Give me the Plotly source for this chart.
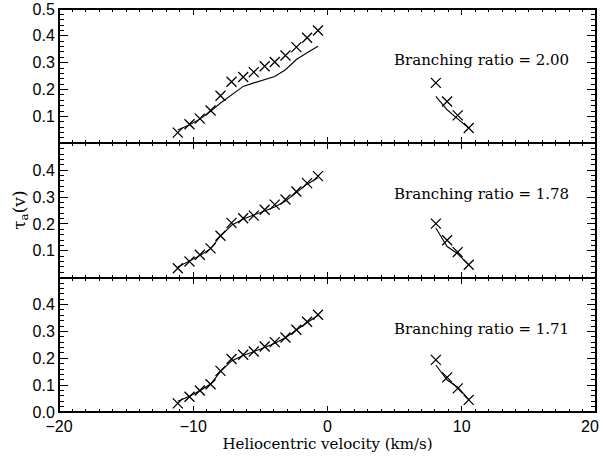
import plotly.graph_objects as go
from plotly.subplots import make_subplots

# Heliocentric velocities (km/s) of the two absorption groups
vel_blue = [-11.15, -10.28, -9.51, -8.71, -7.97, -7.15, -6.28, -5.49,
            -4.68, -3.93, -3.13, -2.32, -1.52, -0.71]
vel_red = [8.07, 8.91, 9.70, 10.52]

# Observed optical depths (crosses) per branching ratio
obs_blue_200 = [0.040, 0.071, 0.092, 0.122, 0.177, 0.229, 0.247, 0.265,
                0.287, 0.303, 0.327, 0.358, 0.393, 0.420]
obs_red_200 = [0.225, 0.156, 0.104, 0.057]
obs_blue_178 = [0.035, 0.060, 0.085, 0.109, 0.156, 0.204, 0.221, 0.231,
                0.253, 0.272, 0.291, 0.321, 0.352, 0.378]
obs_red_178 = [0.201, 0.139, 0.095, 0.048]
obs_blue_171 = [0.032, 0.057, 0.080, 0.103, 0.153, 0.197, 0.213, 0.225,
                0.244, 0.260, 0.277, 0.306, 0.336, 0.362]
obs_red_171 = [0.194, 0.129, 0.088, 0.045]

# Model optical depths (solid lines)
mod_blue_200 = [0.050, 0.069, 0.090, 0.119, 0.150, 0.181, 0.212, 0.225,
                0.237, 0.249, 0.274, 0.312, 0.337, 0.361]
mod_red_200 = [0.175, 0.125, 0.091, 0.057]
mod_blue_178 = [0.040, 0.062, 0.082, 0.108, 0.155, 0.195, 0.218, 0.233,
                0.248, 0.263, 0.285, 0.318, 0.348, 0.372]
mod_red_178 = [0.185, 0.116, 0.089, 0.048]
mod_blue_171 = [0.040, 0.059, 0.079, 0.104, 0.150, 0.190, 0.210, 0.224,
                0.240, 0.256, 0.276, 0.305, 0.334, 0.360]
mod_red_171 = [0.175, 0.119, 0.092, 0.047]

ratio_labels = ["Branching ratio = 2.00", "Branching ratio = 1.78",
                "Branching ratio = 1.71"]
y_ticks = [[0.1, 0.2, 0.3, 0.4, 0.5], [0.1, 0.2, 0.3, 0.4],
           [0.0, 0.1, 0.2, 0.3, 0.4]]
x_ticks = [-20, -10, 0, 10, 20]


def fmt_x(v):
    return str(v) if v >= 0 else "\u2212" + str(-v)


panels = [
    (obs_blue_200, obs_red_200, mod_blue_200, mod_red_200),
    (obs_blue_178, obs_red_178, mod_blue_178, mod_red_178),
    (obs_blue_171, obs_red_171, mod_blue_171, mod_red_171),
]

fig = make_subplots(rows=3, cols=1, shared_xaxes=True, vertical_spacing=0)

serif = "DejaVu Serif"
sans = "Liberation Sans"
cross = dict(symbol="x-thin", size=10, line=dict(color="black", width=1.3))
for i, (ob, orr, mb, mr) in enumerate(panels, start=1):
    for xs, ys in ((vel_blue, mb), (vel_red, mr)):
        fig.add_trace(go.Scatter(x=xs, y=ys, mode="lines",
                                 line=dict(color="black", width=1.1),
                                 showlegend=False), row=i, col=1)
    for xs, ys in ((vel_blue, ob), (vel_red, orr)):
        fig.add_trace(go.Scatter(x=xs, y=ys, mode="markers", marker=cross,
                                 showlegend=False), row=i, col=1)
    suffix = str(i) if i > 1 else ""
    fig.add_annotation(text=ratio_labels[i - 1], x=11.5, y=0.31,
                       xref="x" + suffix, yref="y" + suffix,
                       showarrow=False, xanchor="center", yanchor="middle",
                       font=dict(family=serif, size=15, color="black"))

axis_common = dict(showline=True, linecolor="black", linewidth=1,
                   mirror="allticks", ticks="inside", tickcolor="black",
                   showgrid=False, zeroline=False, automargin=False,
                   tickfont=dict(family=sans, size=16, color="black"))

for i in range(1, 4):
    fig.update_yaxes(range=[0, 0.5], tickvals=y_ticks[i - 1],
                     ticktext=[f"{v:.1f}" for v in y_ticks[i - 1]],
                     ticklen=9, tickwidth=1,
                     minor=dict(ticks="inside", dtick=0.02, ticklen=5,
                                tickcolor="black", tickwidth=1,
                                showgrid=False),
                     row=i, col=1, **axis_common)
    # the last label sits at the page edge and is placed separately below
    fig.update_xaxes(range=[-20, 20], tickvals=x_ticks,
                     ticktext=[fmt_x(v) if v != x_ticks[-1] else ""
                               for v in x_ticks],
                     ticklen=6, tickwidth=1,
                     minor=dict(ticks="inside", dtick=1, ticklen=3,
                                tickcolor="black", tickwidth=1,
                                showgrid=False),
                     showticklabels=(i == 3),
                     row=i, col=1, **axis_common)

fig.add_annotation(text=fmt_x(x_ticks[-1]), x=x_ticks[-1], xref="x3",
                   y=0, yref="paper", yanchor="top", xanchor="center",
                   xshift=-6, yshift=-4, showarrow=False,
                   font=dict(family=sans, size=16, color="black"))

fig.update_xaxes(title=dict(text="Heliocentric velocity (km/s)",
                            font=dict(family=serif, size=15, color="black"),
                            standoff=2), row=3, col=1)

fig.add_annotation(text="\u03c4<sub>a</sub>(v)", textangle=-90,
                   xref="paper", yref="paper", x=-0.072, y=0.5,
                   showarrow=False, xanchor="center", yanchor="middle",
                   font=dict(family=serif, size=17, color="black"))

# heavier outer frame around the stacked panels
fig.add_shape(type="rect", xref="paper", yref="paper", x0=0, x1=1, y0=0,
              y1=1, line=dict(color="black", width=2))

fig.update_layout(width=603, height=457,
                  margin=dict(l=59, r=7, t=9, b=45),
                  paper_bgcolor="white", plot_bgcolor="white")

fig.write_html("out.html")
